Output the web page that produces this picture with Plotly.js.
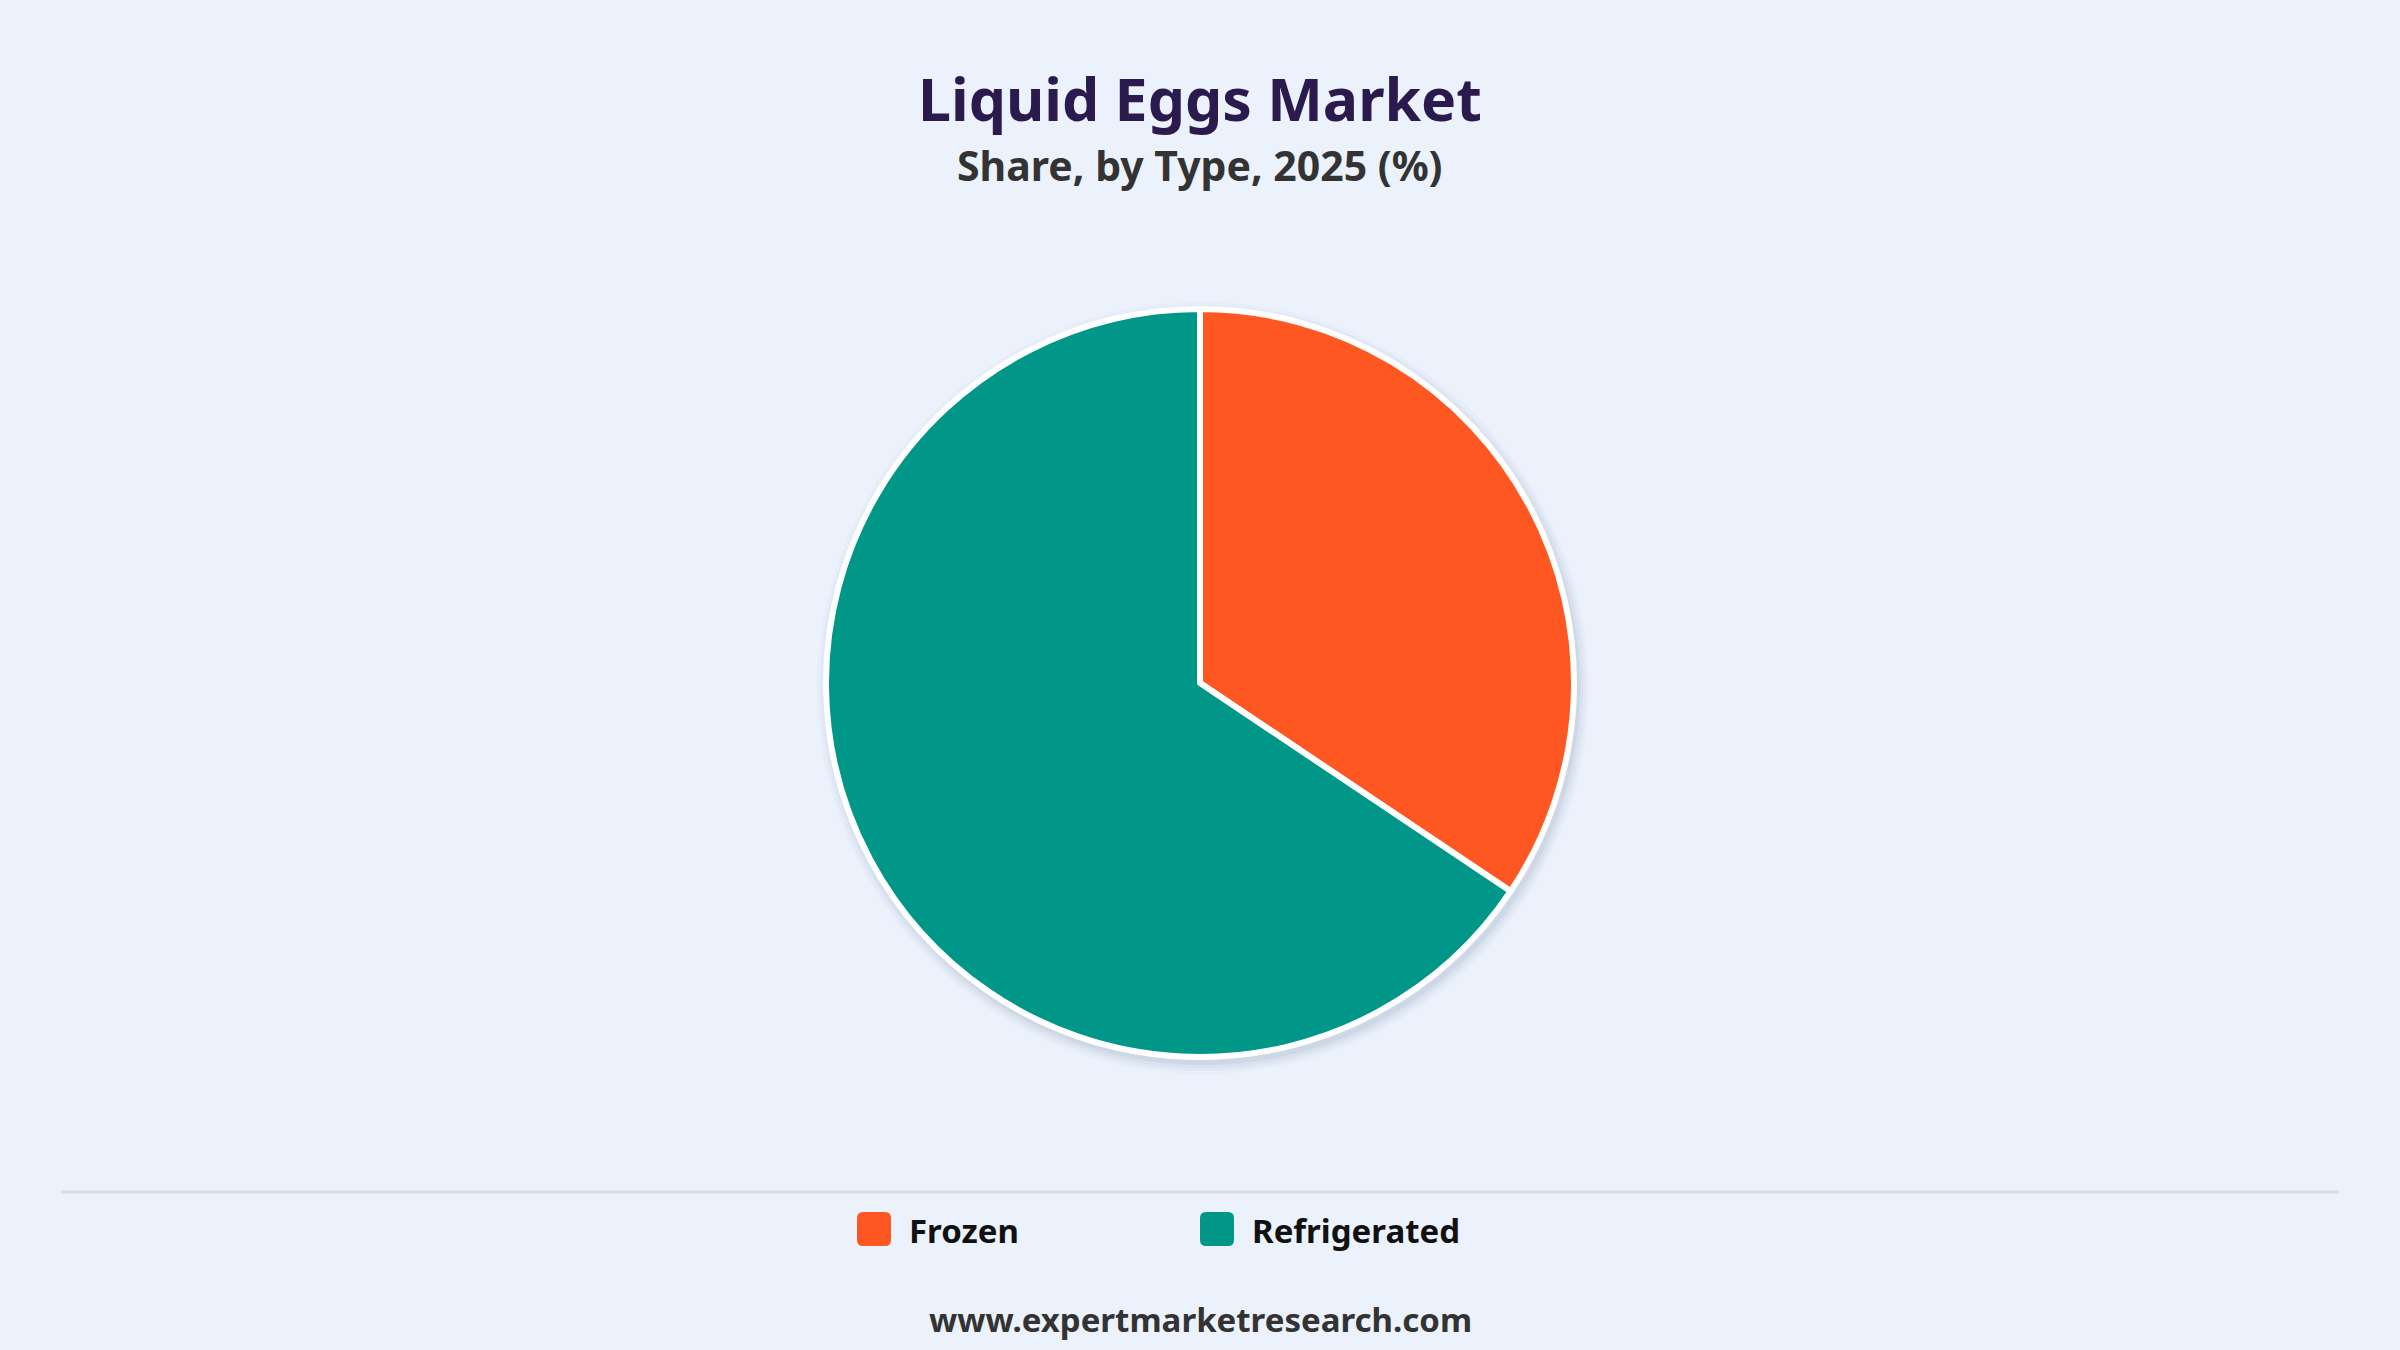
<!DOCTYPE html>
<html>
<head>
<meta charset="utf-8">
<script src="https://cdn.plot.ly/plotly-3.0.1.min.js"></script>
<style>
html,body{margin:0;padding:0;background:#EBF2FC;}
#chart{width:2400px;height:1350px;}
</style>
</head>
<body>
<div id="chart"></div>
<script>
// ---- data ----
const categories = ["Frozen", "Refrigerated"];
const shares = [34.4, 65.6];
const colors = ["#FF5722", "#009688"];
const titleText = "Liquid Eggs Market";
const subtitleText = "Share, by Type, 2025 (%)";
const footerText = "www.expertmarketresearch.com";

// ---- layout helpers (pixel -> paper) ----
const W = 2400, H = 1350;
const px = x => x / W;
const py = y => 1 - y / H;
const FONT = "'Noto Sans', 'Open Sans', sans-serif";

const shapes = [];
const annotations = [];

// soft shadow behind pie
const cx = 1200, cy = 683, R = 374;
[[12, 0.02], [9, 0.03], [6, 0.045], [3, 0.06]].forEach(([grow, op]) => {
  const r = R + grow, oy = 5;
  shapes.push({
    type: "circle", layer: "below", xref: "paper", yref: "paper",
    x0: px(cx - r + 3), x1: px(cx + r + 3), y0: py(cy + oy + r), y1: py(cy + oy - r),
    fillcolor: "rgba(40,60,100," + op + ")", line: {width: 0}
  });
});

// separator line
shapes.push({
  type: "line", xref: "paper", yref: "paper",
  x0: px(61), x1: px(2339), y0: py(1192), y1: py(1192),
  line: {color: "#D9DDE3", width: 3}
});

// custom legend
const legX0 = 857, legStep = 343, legY = 1229, sq = 34, rr = 6;
categories.forEach((c, i) => {
  const x0 = legX0 + i * legStep, x1 = x0 + sq, y0 = legY - sq / 2, y1 = legY + sq / 2;
  const path = [
    "M", px(x0 + rr), py(y0),
    "L", px(x1 - rr), py(y0),
    "Q", px(x1), py(y0), px(x1), py(y0 + rr),
    "L", px(x1), py(y1 - rr),
    "Q", px(x1), py(y1), px(x1 - rr), py(y1),
    "L", px(x0 + rr), py(y1),
    "Q", px(x0), py(y1), px(x0), py(y1 - rr),
    "L", px(x0), py(y0 + rr),
    "Q", px(x0), py(y0), px(x0 + rr), py(y0), "Z"
  ].join(" ");
  shapes.push({type: "path", xref: "paper", yref: "paper", path: path,
    fillcolor: colors[i], line: {width: 0}});
  annotations.push({
    xref: "paper", yref: "paper", x: px(x1 + 16), y: py(legY + 1),
    xanchor: "left", yanchor: "middle", showarrow: false,
    text: "<b>" + c + "</b>",
    font: {family: FONT, size: 33, color: "#111111"}
  });
});

// subtitle
annotations.push({
  xref: "paper", yref: "paper", x: 0.5, y: py(165),
  xanchor: "center", yanchor: "middle", showarrow: false,
  text: "<b>" + subtitleText + "</b>",
  font: {family: FONT, size: 41, color: "#333333"}
});

// footer
annotations.push({
  xref: "paper", yref: "paper", x: 0.5, y: py(1319),
  xanchor: "center", yanchor: "middle", showarrow: false,
  text: "<b>" + footerText + "</b>",
  font: {family: FONT, size: 33, color: "#333333"}
});

const trace = {
  type: "pie",
  labels: categories,
  values: shares,
  marker: {colors: colors, line: {color: "#FFFFFF", width: 6}},
  sort: false,
  direction: "clockwise",
  rotation: 0,
  textinfo: "none",
  hoverinfo: "label+percent",
  showlegend: false,
  domain: {x: [0, 1], y: [py(1057), py(309)]}
};

const layout = {
  width: W, height: H,
  paper_bgcolor: "#EBF2FC",
  plot_bgcolor: "#EBF2FC",
  margin: {l: 0, r: 0, t: 0, b: 0},
  showlegend: false,
  title: {
    text: "<b>" + titleText + "</b>",
    x: 0.5, xanchor: "center",
    y: py(100), yanchor: "middle", yref: "container",
    font: {family: FONT, size: 59, color: "#2B1A4E"}
  },
  shapes: shapes,
  annotations: annotations
};

Plotly.newPlot("chart", [trace], layout, {displayModeBar: false, staticPlot: true});
</script>
</body>
</html>
